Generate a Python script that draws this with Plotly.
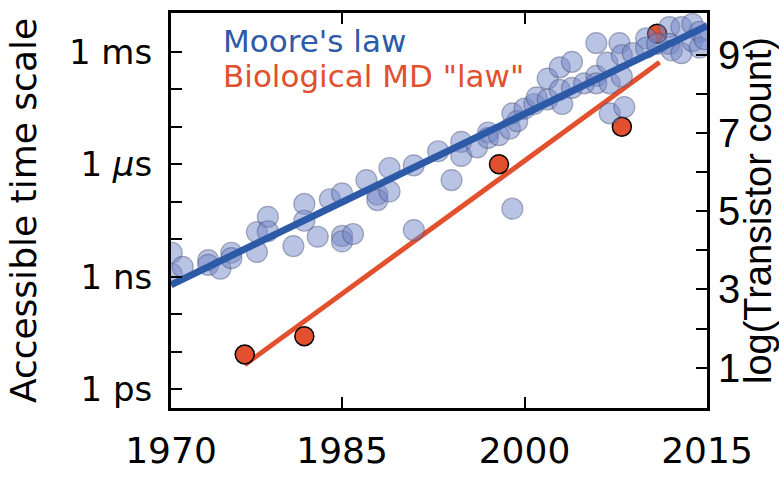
import plotly.graph_objects as go

# ---------------- data ----------------
# Moore's law scatter: year, log10(transistor count)
moore_year = [1971.0, 1971.0, 1971.9, 1974.0, 1974.0, 1975.0, 1975.9, 1975.9, 1978.0, 1978.0,
              1978.9, 1978.9, 1981.0, 1981.9, 1981.9, 1983.0, 1984.0, 1985.0, 1985.0, 1985.0,
              1985.9, 1987.0, 1987.9, 1987.9, 1988.9, 1988.9, 1990.9, 1990.9, 1992.9, 1994.0,
              1994.8, 1994.8, 1996.1, 1997.0, 1997.0, 1997.9, 1998.8, 1999.0, 1999.0, 1999.4,
              2000.0, 2000.8, 2001.0, 2001.9, 2001.9, 2002.9, 2002.9, 2003.1, 2003.9, 2003.9,
              2004.9, 2005.9, 2005.9, 2005.9, 2006.8, 2007.0, 2007.0, 2007.8, 2008.0, 2008.0,
              2008.2, 2008.9, 2010.0, 2010.0, 2010.9, 2011.9, 2011.9, 2012.1, 2012.9, 2012.9,
              2013.8, 2013.8, 2014.4, 2014.4, 2014.8]
moore_logcount = [3.94, 3.39, 3.58, 3.75, 3.63, 3.53, 3.94, 3.80, 4.47, 3.96,
                  4.86, 4.49, 4.11, 5.19, 4.76, 4.35, 5.31, 5.46, 4.37, 4.23,
                  4.42, 5.80, 5.43, 5.29, 6.11, 5.51, 6.18, 4.52, 6.54, 5.80,
                  6.78, 6.42, 6.64, 7.02, 6.88, 6.95, 7.12, 7.51, 5.07, 7.31,
                  7.63, 7.75, 7.92, 7.87, 8.40, 8.69, 8.11, 7.75, 8.83, 8.16,
                  8.28, 9.31, 8.47, 8.28, 8.81, 8.28, 7.51, 9.31, 9.00, 8.45,
                  7.67, 9.05, 9.43, 9.19, 9.29, 9.72, 9.29, 9.12, 9.72, 9.05,
                  9.80, 9.36, 9.60, 9.19, 9.41]

# Moore's law trend line (log10 transistor count)
moore_fit_year = [1970.94, 2015.0]
moore_fit_logcount = [3.12, 9.75]

# Biological MD: year, accessible time scale (seconds)
md_year = [1977.0, 1981.9, 1997.9, 2008.0, 2010.9]
md_time = [8.5e-12, 2.6e-11, 1.0e-6, 1.0e-5, 3.0e-3]

# Biological MD "law" trend line
md_fit_year = [1977.0, 2011.1]
md_fit_time = [4.5e-12, 5.2e-4]

# axes ticks / labels
x_tickvals = [1970.94, 1985, 2000, 2015]
x_ticktext = ["1970", "1985", "2000", "2015"]
time_tickvals = [1e-12, 1e-11, 1e-10, 1e-9, 1e-8, 1e-7, 1e-6, 1e-5, 1e-4, 1e-3]
time_ticktext = ["1 ps", "", "", "1 ns", "", "", "1 <i>μ</i>s", "", "", "1 ms"]
count_tickvals = [1, 2, 3, 4, 5, 6, 7, 8, 9]
count_ticktext = ["1", "", "3", "", "5", "", "7", "", "9"]

BLUE = "#2d5aa7"
RED = "#e2502e"
FONT = "DejaVu Sans"
FONT_R = "Liberation Sans"

fig = go.Figure()

fig.add_trace(go.Scatter(
    x=md_fit_year, y=md_fit_time, mode="lines",
    line=dict(color=RED, width=5), yaxis="y", showlegend=False, hoverinfo="skip"))

fig.add_trace(go.Scatter(
    x=md_year, y=md_time, mode="markers",
    marker=dict(size=19, color=RED, line=dict(color="black", width=1.5)),
    yaxis="y", showlegend=False))

fig.add_trace(go.Scatter(
    x=moore_year, y=moore_logcount, mode="markers",
    marker=dict(size=21, color="rgba(115,135,200,0.5)",
                line=dict(color="rgba(70,80,120,0.45)", width=1.2)),
    yaxis="y2", showlegend=False))

fig.add_trace(go.Scatter(
    x=moore_fit_year, y=moore_fit_logcount, mode="lines",
    line=dict(color=BLUE, width=7), yaxis="y2", showlegend=False, hoverinfo="skip"))

fig.update_layout(
    width=779, height=481,
    margin=dict(l=171, r=71, t=10, b=51),
    paper_bgcolor="white", plot_bgcolor="white",
    font=dict(family=FONT, color="black"),
    xaxis=dict(
        range=[1970.94, 2015.0], tickvals=x_tickvals, ticktext=x_ticktext,
        ticks="inside", ticklen=11, tickwidth=1.5, tickcolor="black",
        showline=True, linecolor="black", linewidth=3, mirror="ticks",
        showgrid=False, zeroline=False,
        tickfont=dict(family=FONT, size=36, color="black"),
        ticklabelstandoff=9,
    ),
    yaxis=dict(
        type="log", range=[-12.5, -1.97],
        tickvals=time_tickvals, ticktext=time_ticktext,
        ticks="inside", ticklen=11, tickwidth=1.5, tickcolor="black",
        showline=True, linecolor="black", linewidth=3,
        showgrid=False, zeroline=False,
        tickfont=dict(family=FONT, size=34, color="black"),
        ticklabelstandoff=9,
        title=dict(text="Accessible time scale", font=dict(family=FONT, size=36, color="black"),
                   standoff=22),
    ),
    yaxis2=dict(
        overlaying="y", side="right", range=[-0.036, 10.08],
        tickvals=count_tickvals, ticktext=count_ticktext,
        ticks="inside", ticklen=11, tickwidth=1.5, tickcolor="black",
        showline=True, linecolor="black", linewidth=3,
        showgrid=False, zeroline=False,
        tickfont=dict(family=FONT_R, size=40, color="black"),
        ticklabelstandoff=0,
        title=dict(text="log(Transistor count)", font=dict(family=FONT_R, size=38, color="black"),
                   standoff=2),
    ),
    annotations=[
        dict(text="Moore's law", xref="paper", yref="paper", x=0.093, y=0.93,
             xanchor="left", yanchor="middle", showarrow=False,
             font=dict(family=FONT, size=31, color=BLUE)),
        dict(text='Biological MD "law"', xref="paper", yref="paper", x=0.093, y=0.84,
             xanchor="left", yanchor="middle", showarrow=False,
             font=dict(family=FONT, size=31, color=RED)),
    ],
)

fig.write_html("out.html")
